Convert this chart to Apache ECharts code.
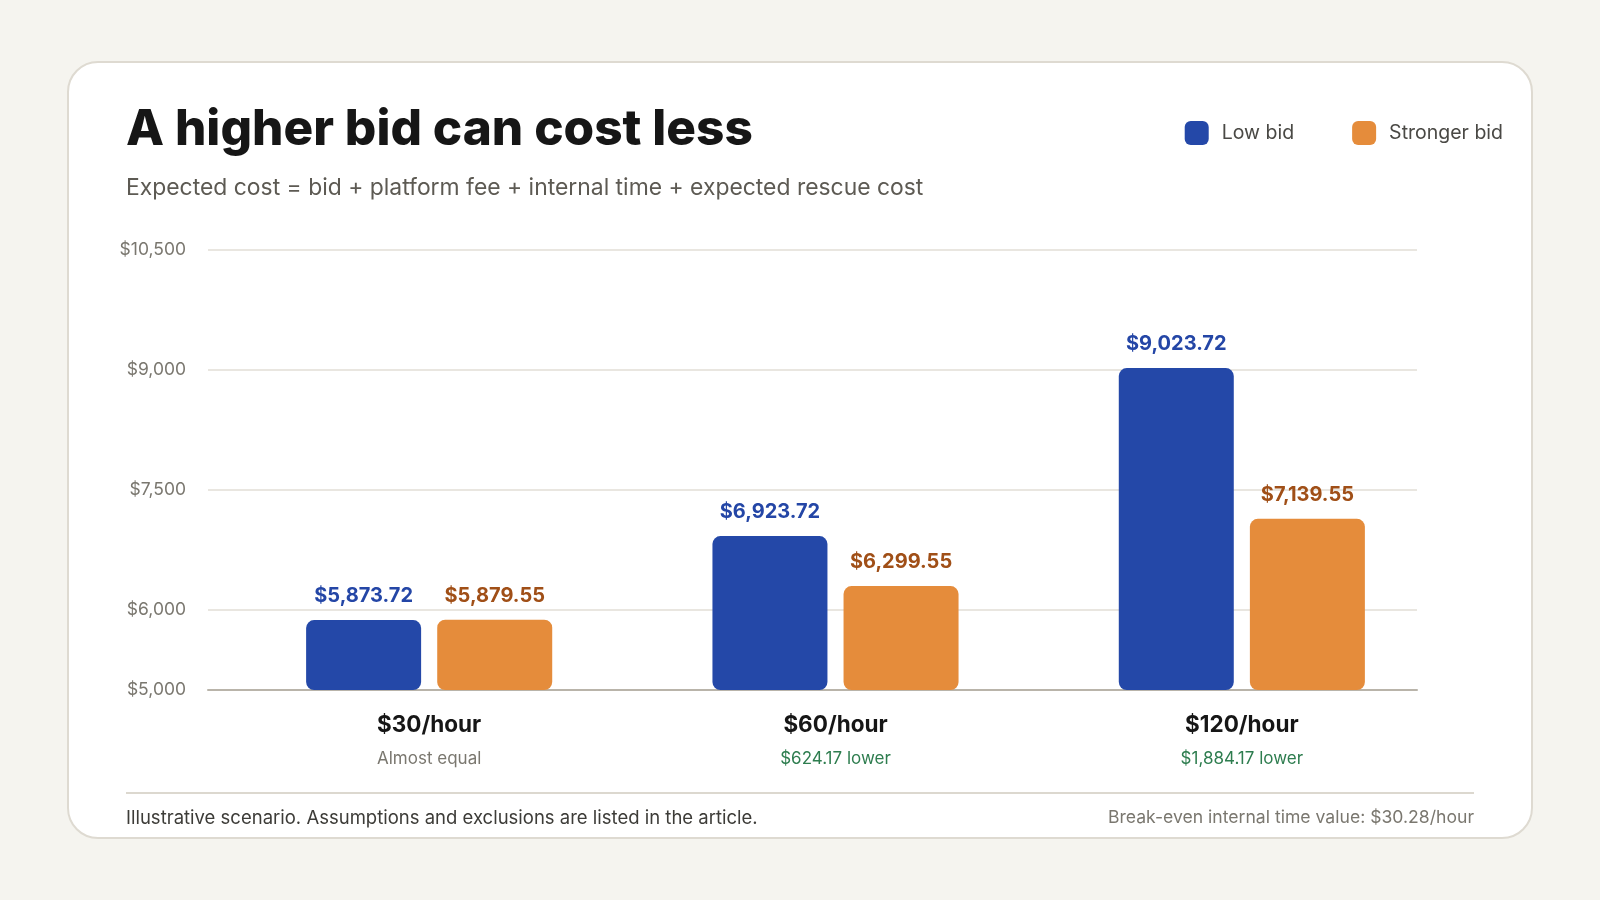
<!DOCTYPE html>
<html>
<head>
<meta charset="utf-8">
<title>A higher bid can cost less</title>
<script src="https://cdn.jsdelivr.net/npm/echarts@6/dist/echarts.min.js"></script>
<style>
    html, body { margin: 0; padding: 0; background: #f5f4ef; }
    #bid-chart { width: 1600px; height: 900px; }
</style>
</head>
<body>
<div id="bid-chart"></div>
<script>
// data
var categories = ['$30/hour', '$60/hour', '$120/hour'];
var notes = ['Almost equal', '$624.17 lower', '$1,884.17 lower'];
var noteTone = ['muted', 'good', 'good'];
var lowBid = [5873.72, 6923.72, 9023.72];
var strongerBid = [5879.55, 6299.55, 7139.55];
var yTicks = [5000, 6000, 7500, 9000, 10500];

var money = function (v, digits) {
    return '$' + v.toLocaleString('en-US', { minimumFractionDigits: digits, maximumFractionDigits: digits });
};

var dom = document.getElementById("bid-chart");
var myChart = echarts.init(dom);
var option = null;

option = {
    backgroundColor: '#f5f4ef',
    textStyle: { fontFamily: 'Inter' },
    title: {
        left: 121,
        top: 100,
        text: 'A higher bid can cost less',
        subtext: 'Expected cost = bid + platform fee + internal time + expected rescue cost',
        itemGap: 22,
        textStyle: { fontFamily: 'Inter', fontSize: 49.5, fontWeight: 800, color: '#161616' },
        subtextStyle: { fontFamily: 'Inter', fontSize: 22.9, color: '#5d5a53' }
    },
    legend: {
        right: 92,
        top: 116,
        icon: 'roundRect',
        itemWidth: 24,
        itemHeight: 24,
        itemGap: 58,
        data: ['Low bid', 'Stronger bid'],
        textStyle: { fontFamily: 'Inter', fontSize: 19.5, color: '#4a4945', padding: [0, 0, 0, 8] }
    },
    graphic: [
        {
            type: 'rect',
            z: -10,
            shape: { x: 68, y: 62, width: 1464, height: 776, r: 30 },
            style: { fill: '#ffffff', stroke: '#dedad1', lineWidth: 2 }
        },
        {
            type: 'line',
            shape: { x1: 126, y1: 793, x2: 1474, y2: 793 },
            style: { stroke: '#dcd8cf', lineWidth: 2 }
        },
        {
            type: 'text',
            left: 126,
            top: 809,
            style: { text: 'Illustrative scenario. Assumptions and exclusions are listed in the article.', font: '18.5px Inter', fill: '#3d3c38' }
        },
        {
            type: 'text',
            right: 126,
            top: 809,
            style: { text: 'Break-even internal time value: $30.28/hour', font: '17.6px Inter', fill: '#7a776f' }
        }
    ],
    grid: [
        { left: 208, right: 183, top: 250, bottom: 210 },
        { left: 226, right: 155, top: 250, bottom: 210 }
    ],
    xAxis: [
        {
            gridIndex: 0,
            type: 'category',
            data: [''],
            axisLine: { lineStyle: { color: '#b9b4aa', width: 2 } },
            axisTick: { show: false },
            axisLabel: { show: false }
        },
        {
            gridIndex: 1,
            type: 'category',
            data: categories,
            axisLine: { show: false },
            axisTick: { show: false },
            axisLabel: {
                margin: 20,
                formatter: function (value, idx) {
                    return '{cat|' + value + '}\n{' + noteTone[idx] + '|' + notes[idx] + '}';
                },
                rich: {
                    cat: { fontFamily: 'Inter', fontSize: 22.5, fontWeight: 700, color: '#161616', lineHeight: 30 },
                    muted: { fontFamily: 'Inter', fontSize: 17, color: '#7a776f', lineHeight: 37 },
                    good: { fontFamily: 'Inter', fontSize: 17, color: '#2e7d4f', lineHeight: 37 }
                }
            }
        }
    ],
    yAxis: [
        {
            gridIndex: 0,
            type: 'value',
            min: 5000,
            max: 10500,
            axisLine: { show: false },
            axisTick: { show: false, customValues: yTicks },
            axisLabel: {
                customValues: yTicks,
                margin: 22,
                fontFamily: 'Inter',
                fontSize: 17.5,
                color: '#7a776f',
                formatter: function (v) { return money(v, 0); }
            },
            splitLine: { lineStyle: { color: '#e9e6e0', width: 2 } }
        },
        {
            gridIndex: 1,
            type: 'value',
            min: 5000,
            max: 10500,
            show: false
        }
    ],
    series: [
        {
            name: 'Low bid',
            type: 'bar',
            xAxisIndex: 1,
            yAxisIndex: 1,
            barWidth: 115,
            barGap: '14%',
            itemStyle: { color: '#2448a8', borderRadius: 8 },
            label: {
                show: true,
                position: 'top',
                distance: 14,
                fontFamily: 'Inter',
                fontSize: 20,
                fontWeight: 700,
                color: '#2446a6',
                formatter: function (p) { return money(p.value, 2); }
            },
            data: lowBid
        },
        {
            name: 'Stronger bid',
            type: 'bar',
            xAxisIndex: 1,
            yAxisIndex: 1,
            barWidth: 115,
            itemStyle: { color: '#e58c3b', borderRadius: 8 },
            label: {
                show: true,
                position: 'top',
                distance: 14,
                fontFamily: 'Inter',
                fontSize: 20,
                fontWeight: 700,
                color: '#a04f17',
                formatter: function (p) { return money(p.value, 2); }
            },
            data: strongerBid
        }
    ]
};

if (option && typeof option === "object") {
    myChart.setOption(option, true);
}
</script>
</body>
</html>
